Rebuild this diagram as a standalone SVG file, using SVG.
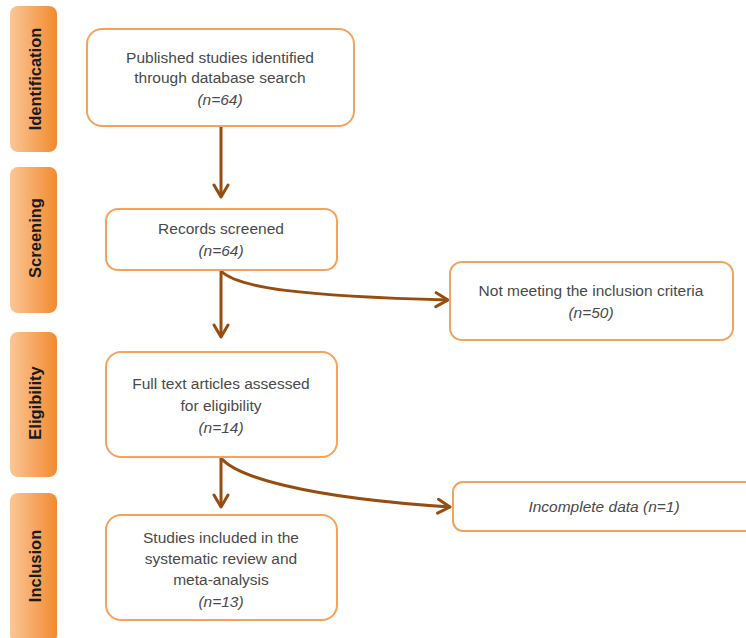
<svg xmlns="http://www.w3.org/2000/svg" width="746" height="638" viewBox="0 0 746 638">
<defs>
<linearGradient id="tabg" x1="0" y1="0" x2="1" y2="0">
<stop offset="0" stop-color="#fbc697"/>
<stop offset="1" stop-color="#f28a2e"/>
</linearGradient>
<marker id="arr" viewBox="0 0 18 18" refX="15" refY="9" markerWidth="18" markerHeight="18" markerUnits="userSpaceOnUse" orient="auto">
<polyline points="3,2 15,9 3,16" fill="none" stroke="#974c10" stroke-width="3" stroke-linecap="round" stroke-linejoin="round"/>
</marker>
<style>
.tab{fill:url(#tabg);}
.tabt{font-family:"Liberation Sans",Arial,sans-serif;font-weight:bold;font-size:16.5px;fill:#1a1a1a;text-anchor:middle;}
.box{fill:#fff;stroke:#f5a25a;stroke-width:2;}
.t{font-family:"Liberation Sans",Arial,sans-serif;font-size:15.5px;fill:#4a4a4a;text-anchor:middle;}
.i{font-style:italic;}
.c{fill:none;stroke:#974c10;stroke-width:3;marker-end:url(#arr);}
</style>
</defs>
<rect width="746" height="638" fill="#fff"/>
<g id="tab-identification"><rect class="tab" x="10" y="6" width="47" height="146" rx="8"/><text class="tabt" transform="translate(41,79) rotate(-90)">Identification</text></g>
<g id="tab-screening"><rect class="tab" x="10" y="167" width="47" height="146" rx="8"/><text class="tabt" transform="translate(41,238) rotate(-90)">Screening</text></g>
<g id="tab-eligibility"><rect class="tab" x="10" y="332" width="47" height="145" rx="8"/><text class="tabt" transform="translate(41,403) rotate(-90)">Eligibility</text></g>
<g id="tab-inclusion"><rect class="tab" x="10" y="493" width="47" height="150" rx="8"/><text class="tabt" transform="translate(41,566) rotate(-90)">Inclusion</text></g>

<g id="connectors">
<line class="c" x1="221" y1="127" x2="221" y2="197"/>
<line class="c" x1="221" y1="271" x2="221" y2="337"/>
<line class="c" x1="221" y1="458" x2="221" y2="507"/>
<path class="c" d="M221,271 C238,288 300,296 448,300"/>
<path class="c" d="M221,458 C236,476 300,497 450,507"/>
</g>

<g id="n1"><rect class="box" x="87" y="29" width="267" height="97" rx="15"/>
<text class="t" x="220" y="63">Published studies identified</text>
<text class="t" x="220" y="83">through database search</text>
<text class="t i" x="220" y="105">(n=64)</text></g>
<g id="n2"><rect class="box" x="106" y="209" width="231" height="61" rx="12"/>
<text class="t" x="221" y="234">Records screened</text>
<text class="t i" x="221" y="256">(n=64)</text></g>
<g id="n3"><rect class="box" x="450" y="262" width="283" height="78" rx="12"/>
<text class="t" x="591" y="296">Not meeting the inclusion criteria</text>
<text class="t i" x="591" y="318">(n=50)</text></g>
<g id="n4"><rect class="box" x="106" y="352" width="231" height="105" rx="15"/>
<text class="t" x="221" y="389">Full text articles assessed</text>
<text class="t" x="221" y="411">for eligibility</text>
<text class="t i" x="221" y="433">(n=14)</text></g>
<g id="n5"><rect class="box" x="453" y="482" width="310" height="49" rx="10"/>
<text class="t i" x="604" y="512">Incomplete data (n=1)</text></g>
<g id="n6"><rect class="box" x="106" y="515" width="231" height="105" rx="15"/>
<text class="t" x="221" y="543">Studies included in the</text>
<text class="t" x="221" y="564">systematic review and</text>
<text class="t" x="221" y="585">meta-analysis</text>
<text class="t i" x="221" y="607">(n=13)</text></g>
</svg>
